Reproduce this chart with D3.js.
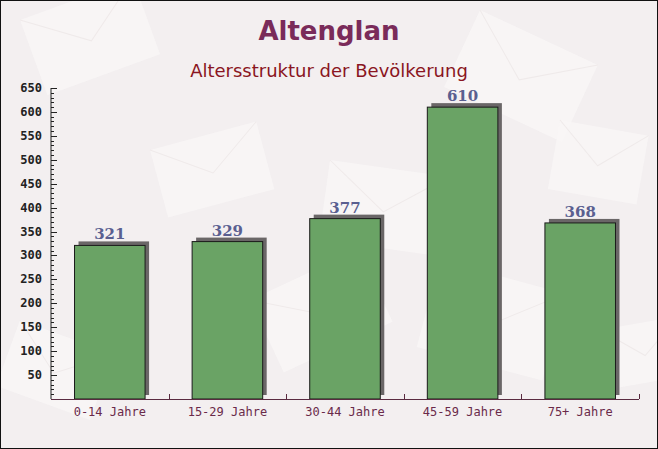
<!DOCTYPE html>
<html><head><meta charset="utf-8">
<script src="https://cdn.jsdelivr.net/npm/d3@7"></script>
<style>body{margin:0;background:#fff}svg{display:block}</style>
</head><body>
<script>
const categories = ["0-14 Jahre","15-29 Jahre","30-44 Jahre","45-59 Jahre","75+ Jahre"];
const values = [321, 329, 377, 610, 368];
const yTicks = [50,100,150,200,250,300,350,400,450,500,550,600,650];
const titleText = "Altenglan";
const subtitleText = "Altersstruktur der Bevölkerung";

const W = 658, H = 449;
const svg = d3.select("body").append("svg").attr("width", W).attr("height", H);

// background
svg.append("rect").attr("x",0).attr("y",0).attr("width",W).attr("height",H).attr("fill","#f3eff0");
const bg = svg.append("g");
const env = [[20,20,120,80,-20],[480,10,130,85,25],[150,150,110,70,-15],[560,120,90,70,10],[250,300,120,80,-25],[440,260,130,90,15],[20,320,100,70,20],[600,330,80,60,-10],[330,160,120,80,8]];
env.forEach(e=>{
  const g = bg.append("g").attr("transform",`translate(${e[0]},${e[1]}) rotate(${e[4]})`);
  g.append("rect").attr("width",e[2]).attr("height",e[3]).attr("fill","#f9f6f6").attr("opacity",0.8);
  g.append("path").attr("d",`M0,0 L${e[2]/2},${e[3]*0.55} L${e[2]},0`).attr("fill","none").attr("stroke","#efeaea").attr("stroke-width",1);
});

const m = {left:51, right:639, top:88, bottom:399};
const x = d3.scaleBand().domain(categories).range([m.left, m.right]).paddingInner(0.4).paddingOuter(0.2);
const y = d3.scaleLinear().domain([0,650]).range([m.bottom, m.top]);

// titles
svg.append("text").attr("x",329).attr("y",40).attr("text-anchor","middle")
  .attr("font-family","DejaVu Sans").attr("font-weight","bold").attr("font-size",26)
  .attr("fill","#7a2b5a").text(titleText);
svg.append("text").attr("x",329).attr("y",77).attr("text-anchor","middle")
  .attr("font-family","DejaVu Sans").attr("font-size",18)
  .attr("fill","#8a1522").text(subtitleText);

// bars
const bars = svg.append("g");
categories.forEach((c,i)=>{
  const bx = x(c), bw = x.bandwidth(), by = y(values[i]), bh = m.bottom - by;
  bars.append("rect").attr("x",bx+4).attr("y",by-4).attr("width",bw).attr("height",bh)
    .attr("fill","#6a6667");
  bars.append("rect").attr("x",bx).attr("y",by).attr("width",bw).attr("height",bh)
    .attr("fill","#6aa365").attr("stroke","#1a1a1a").attr("stroke-width",1);
  svg.append("text").attr("x",bx+bw/2).attr("y",by-6).attr("text-anchor","middle")
    .attr("font-family","DejaVu Serif").attr("font-weight","bold").attr("font-size",15)
    .attr("fill","#5a5f90").text(values[i]);
});

// y axis
const yAxis = svg.append("g").attr("transform",`translate(${m.left},0)`);
yAxis.append("line").attr("x1",0).attr("x2",0).attr("y1",m.top).attr("y2",m.bottom).attr("stroke","#222");
d3.range(10,651,10).forEach(v=>{
  const major = v%50===0;
  yAxis.append("line").attr("x1",0).attr("x2",major?6:3).attr("y1",Math.round(y(v))+0.5).attr("y2",Math.round(y(v))+0.5).attr("stroke","#222");
});
yTicks.forEach(v=>{
  yAxis.append("text").attr("x",-9).attr("y",y(v)+4).attr("text-anchor","end")
    .attr("font-family","DejaVu Sans Mono").attr("font-weight","bold").attr("font-size",12)
    .attr("fill","#222").text(v);
});

// x axis
const xAxis = svg.append("g");
xAxis.append("line").attr("x1",m.left).attr("x2",m.right).attr("y1",m.bottom+0.5).attr("y2",m.bottom+0.5).attr("stroke","#5a2a40");
d3.range(1,6).forEach(i=>{
  const tx = Math.round(m.left + i*(m.right-m.left)/5)+0.5;
  xAxis.append("line").attr("x1",tx).attr("x2",tx).attr("y1",m.bottom).attr("y2",m.bottom-5).attr("stroke","#5a2a40");
});
categories.forEach(c=>{
  xAxis.append("text").attr("x",x(c)+x.bandwidth()/2).attr("y",m.bottom+17).attr("text-anchor","middle")
    .attr("font-family","DejaVu Sans Mono").attr("font-size",12)
    .attr("fill","#6a2a4a").text(c);
});

// border
svg.append("rect").attr("x",0.5).attr("y",0.5).attr("width",W-1).attr("height",H-1).attr("fill","none").attr("stroke","#111");
</script>
</body></html>
